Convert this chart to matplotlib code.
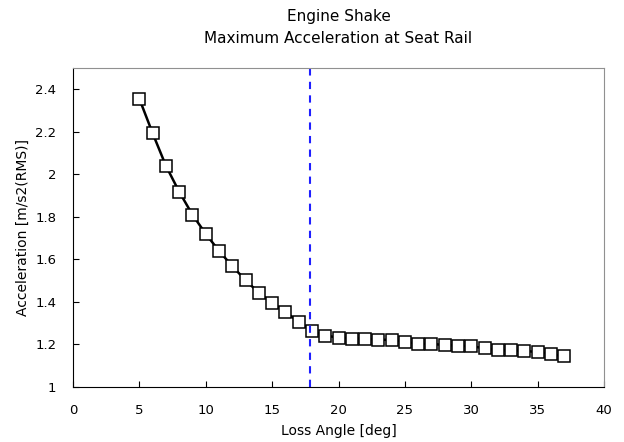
import numpy as np
import matplotlib
matplotlib.use("Agg")
import matplotlib.pyplot as plt

# Engine shake - max acceleration at seat rail vs loss angle
loss_angle = list(range(5, 38))
accel = [2.355, 2.193, 2.040, 1.918, 1.810, 1.720, 1.640, 1.568, 1.502, 1.443,
         1.395, 1.353, 1.306, 1.262, 1.242, 1.232, 1.228, 1.228, 1.222, 1.222,
         1.212, 1.203, 1.203, 1.197, 1.195, 1.191, 1.183, 1.173, 1.172, 1.170,
         1.164, 1.156, 1.144]
limit_angle = 17.85

y_ticks = [1, 1.2, 1.4, 1.6, 1.8, 2, 2.2, 2.4]
x_ticks = [0, 5, 10, 15, 20, 25, 30, 35, 40]

plt.rcParams['font.family'] = ['DejaVu Sans']

fig = plt.figure(figsize=(6.24, 4.42), dpi=100)
ax = fig.add_axes([73 / 624, 1 - 387 / 442, (604 - 73) / 624, (387 - 68) / 442])

ax.plot(loss_angle, accel, color='black', linewidth=1.8, marker='s', markersize=8.5,
        markerfacecolor='white', markeredgecolor='black', markeredgewidth=1.1)
ax.axvline(limit_angle, color='#1f1fff', linestyle=(0, (3.5, 3)), linewidth=1.5)

ax.set_xlim(0, 40)
ax.set_ylim(1, 2.5)
ax.set_xticks(x_ticks)
ax.set_yticks(y_ticks)
ax.set_yticklabels(["%g" % v for v in y_ticks])
ax.tick_params(direction='in', length=4, labelsize=9.5, colors='black')
ax.tick_params(axis='y', pad=12)
ax.tick_params(axis='x', pad=12)

for s in ['top', 'right']:
    ax.spines[s].set_color('#909090')
for s in ['left', 'bottom']:
    ax.spines[s].set_color('black')

ax.set_xlabel("Loss Angle [deg]", fontsize=10, labelpad=5)
ax.set_ylabel("Acceleration [m/s2(RMS)]", fontsize=10, labelpad=4)
ax.set_title("Engine Shake\nMaximum Acceleration at Seat Rail", fontsize=11,
             linespacing=1.6, pad=18)

fig.savefig("out.png", dpi=100)
